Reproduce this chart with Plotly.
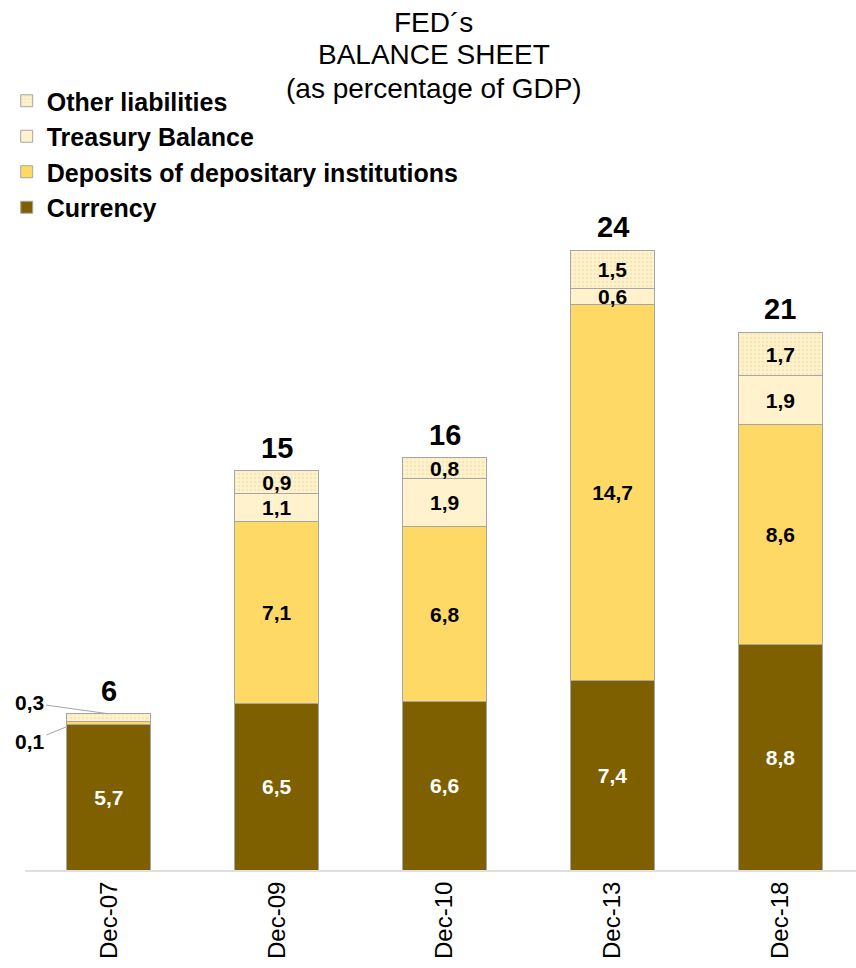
import plotly.graph_objects as go

categories = ["Dec-07", "Dec-09", "Dec-10", "Dec-13", "Dec-18"]
currency = [5.7, 6.5, 6.6, 7.4, 8.8]
deposits = [0.1, 7.1, 6.8, 14.7, 8.6]
treasury = [0.0, 1.1, 1.9, 0.6, 1.9]
other_liab = [0.3, 0.9, 0.8, 1.5, 1.7]
total_labels = ["6", "15", "16", "24", "21"]

FONT = "Liberation Sans, Arial, sans-serif"
OUTLINE = "#A6A6A6"


def fmt(vals, hide_small=True):
    out = []
    for i, v in enumerate(vals):
        if i == 0 and hide_small:
            out.append("")
        else:
            out.append(f"{v:.1f}".replace(".", ","))
    return out


fig = go.Figure()

series = [
    ("Currency", currency, "#7F6000", "white", False),
    ("Deposits of depositary institutions", deposits, "#FFD966", "black", True),
    ("Treasury Balance", treasury, "#FFF2CC", "black", True),
    ("Other liabilities", other_liab, "#FFF2CC", "black", True),
]

for name, vals, color, tcolor, hide in series:
    marker = dict(color=color, line=dict(color=OUTLINE, width=1))
    if name == "Other liabilities":
        marker["pattern"] = dict(shape=".", bgcolor="#FFF2CC", fgcolor="#E8D9A8",
                                 size=4, solidity=0.35)
    fig.add_trace(go.Bar(
        x=categories, y=vals, name=name, marker=marker,
        text=fmt(vals, hide_small=hide), textposition="inside",
        insidetextanchor="middle", textangle=0,
        textfont=dict(family=FONT, size=21, color=tcolor, weight="bold"),
        hoverinfo="skip",
    ))

totals = [c + d + t + o for c, d, t, o in zip(currency, deposits, treasury, other_liab)]

annotations = []
for cat, tot, lab in zip(categories, totals, total_labels):
    annotations.append(dict(
        x=cat, y=tot, text=lab, showarrow=False, yanchor="bottom", yshift=5,
        font=dict(family=FONT, size=29, color="black", weight="bold")))

# small Dec-07 segment labels with leader lines
small_lbl = f"{other_liab[0]:.1f}".replace(".", ",")
small_lbl2 = f"{deposits[0]:.1f}".replace(".", ",")
annotations.append(dict(
    x=0, y=totals[0], text=small_lbl, showarrow=True, arrowhead=0, arrowwidth=1,
    arrowcolor=OUTLINE, ax=-79, ay=-11, standoff=0,
    font=dict(family=FONT, size=21, color="black", weight="bold")))
annotations.append(dict(
    x=-0.25, y=currency[0] - 0.1, text=small_lbl2, showarrow=True, arrowhead=0,
    arrowwidth=1, arrowcolor=OUTLINE, ax=-37, ay=15, standoff=0,
    font=dict(family=FONT, size=21, color="black", weight="bold")))

# title lines
title_lines = ["FED´s", "BALANCE SHEET", "(as percentage of GDP)"]
for i, line in enumerate(title_lines):
    annotations.append(dict(
        xref="paper", yref="paper", x=0.492, y=1 - (22 + 33 * i) / 870,
        text=line, showarrow=False, xanchor="center", yanchor="middle",
        font=dict(family=FONT, size=28, color="black")))

fig.update_layout(
    barmode="stack", bargap=0.5,
    width=856, height=968,
    margin=dict(l=25, r=0, t=0, b=98),
    paper_bgcolor="white", plot_bgcolor="white",
    annotations=annotations,
    uniformtext=dict(minsize=21, mode="show"),
    legend=dict(
        traceorder="reversed", x=-0.022, y=1 - 78 / 870, xanchor="left", yanchor="top",
        font=dict(family=FONT, size=25, color="black", weight="bold"),
        bgcolor="rgba(0,0,0,0)", itemclick=False,
    ),
    showlegend=True,
)
fig.update_xaxes(range=[-0.5, 4.45], showline=True, linecolor="#E0E0E0", linewidth=2,
                 showgrid=False, ticks="", tickangle=-90,
                 tickfont=dict(family=FONT, size=24, color="black"))
fig.update_yaxes(range=[0, 870 / 25.6], visible=False, showgrid=False, zeroline=False)

fig.write_html("out.html")
